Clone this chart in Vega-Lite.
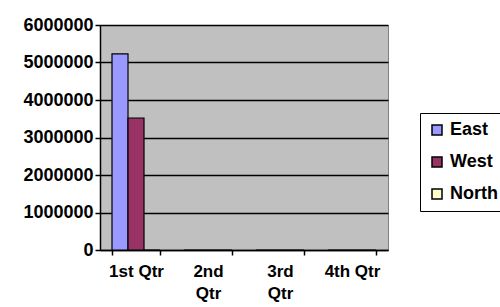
{
  "$schema": "https://vega.github.io/schema/vega-lite/v6.json",
  "width": 288,
  "height": 225,
  "autosize": "none",
  "padding": {"left": 100, "top": 25, "right": 112, "bottom": 57},
  "background": "white",
  "data": {
    "values": [
      {"quarter": "1st Qtr", "region": "East", "value": 5230000},
      {"quarter": "1st Qtr", "region": "West", "value": 3520000},
      {"quarter": "1st Qtr", "region": "North", "value": 0},
      {"quarter": "2nd Qtr", "region": "East", "value": 0},
      {"quarter": "2nd Qtr", "region": "West", "value": 0},
      {"quarter": "2nd Qtr", "region": "North", "value": 0},
      {"quarter": "3rd Qtr", "region": "East", "value": 0},
      {"quarter": "3rd Qtr", "region": "West", "value": 0},
      {"quarter": "3rd Qtr", "region": "North", "value": 0},
      {"quarter": "4th Qtr", "region": "East", "value": 0},
      {"quarter": "4th Qtr", "region": "West", "value": 0},
      {"quarter": "4th Qtr", "region": "North", "value": 0}
    ]
  },
  "config": {
    "font": "Liberation Sans",
    "view": {"fill": "#C0C0C0", "stroke": "#808080", "strokeWidth": 1}
  },
  "mark": {"type": "bar", "stroke": "black", "strokeWidth": 1.2},
  "encoding": {
    "x": {
      "field": "quarter",
      "type": "nominal",
      "sort": null,
      "scale": {"paddingInner": 0.3333, "paddingOuter": 0.1667},
      "axis": {
        "title": null,
        "labelAngle": 0,
        "labelFont": "Liberation Sans",
        "labelFontSize": 17,
        "labelFontWeight": "bold",
        "labelColor": "black",
        "labelPadding": 8,
        "labelLineHeight": 22,
        "labelExpr": "datum.label == '2nd Qtr' || datum.label == '3rd Qtr' ? split(datum.label, ' ') : datum.label",
        "tickBand": "extent",
        "tickColor": "black",
        "tickSize": 5,
        "tickWidth": 1.5,
        "domainColor": "black",
        "domainWidth": 1.5,
        "grid": false
      }
    },
    "xOffset": {"field": "region", "type": "nominal", "sort": ["East", "West", "North"]},
    "y": {
      "field": "value",
      "type": "quantitative",
      "scale": {"domain": [0, 6000000], "nice": false},
      "axis": {
        "title": null,
        "values": [0, 1000000, 2000000, 3000000, 4000000, 5000000, 6000000],
        "format": "d",
        "labelFont": "Liberation Sans",
        "labelFontSize": 18,
        "labelFontWeight": "bold",
        "labelColor": "black",
        "labelPadding": 2,
        "tickColor": "black",
        "tickSize": 5,
        "tickWidth": 1.5,
        "domainColor": "black",
        "domainWidth": 1.5,
        "gridColor": "black",
        "gridWidth": 1.5
      }
    },
    "color": {
      "field": "region",
      "type": "nominal",
      "sort": ["East", "West", "North"],
      "scale": {"domain": ["East", "West", "North"], "range": ["#9999FF", "#993366", "#FFFFCC"]},
      "legend": {
        "title": null,
        "orient": "none",
        "legendX": 320,
        "legendY": 88,
        "symbolType": "square",
        "symbolSize": 100,
        "symbolStrokeColor": "black",
        "symbolStrokeWidth": 1.5,
        "labelFont": "Liberation Sans",
        "labelFontSize": 18,
        "labelFontWeight": "bold",
        "labelColor": "black",
        "labelOffset": 4,
        "rowPadding": 14,
        "padding": 8,
        "strokeColor": "black",
        "fillColor": "white"
      }
    }
  }
}
